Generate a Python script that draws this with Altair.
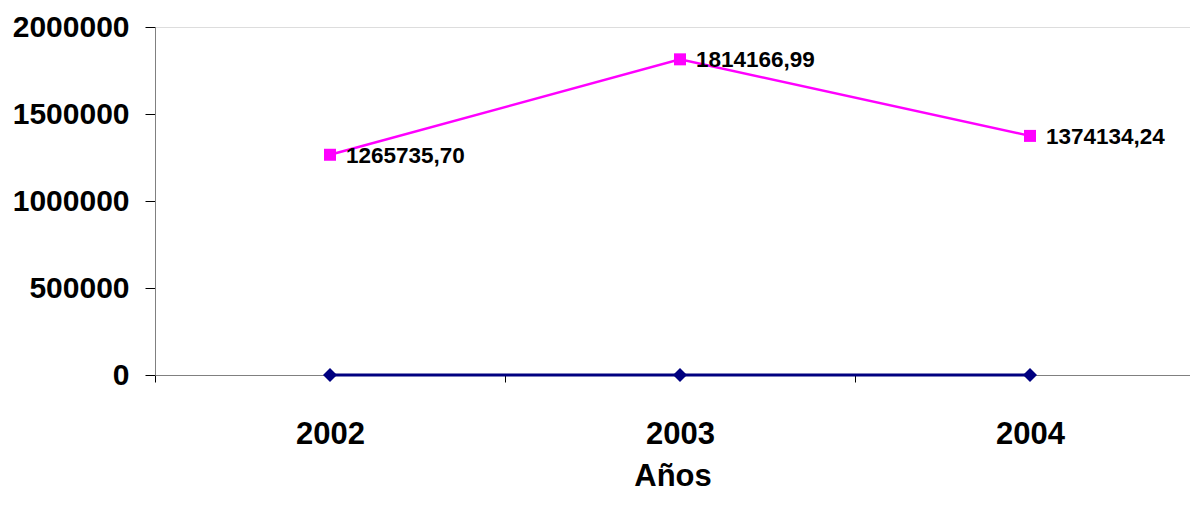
import altair as alt
import pandas as pd

years = [2002, 2003, 2004]
serie_a = [1265735.70, 1814166.99, 1374134.24]
serie_b = [0, 0, 0]
labels_a = ["1265735,70", "1814166,99", "1374134,24"]

pos = [i + 0.5 for i in range(len(years))]
df_a = pd.DataFrame({"pos": pos, "year": years, "value": serie_a, "label": labels_a})
df_b = pd.DataFrame({"pos": pos, "year": years, "value": serie_b})

FONT = "Liberation Sans"
PLOT_W = 1035

x = alt.X(
    "pos:Q",
    scale=alt.Scale(domain=[0, PLOT_W / 350], nice=False, zero=False),
    axis=alt.Axis(
        values=[0, 0.5, 1, 1.5, 2, 2.5],
        labelExpr="datum.value % 1 == 0.5 ? format(datum.value + 2001.5, 'd') : ''",
        tickOpacity={"condition": {"test": "datum.value % 1 == 0", "value": 1}, "value": 0},
        title="Años",
        grid=False,
        tickSize=7,
        labelPadding=37,
        titlePadding=12,
        labelFontSize=31,
        titleFontSize=31,
        labelFont=FONT,
        titleFont=FONT,
        labelFontWeight="bold",
        titleFontWeight="bold",
        labelColor="black",
        titleColor="black",
        domainColor="#808080",
        tickColor="black",
        labelFlush=False,
        labelOverlap=False,
    ),
)

y = alt.Y(
    "value:Q",
    scale=alt.Scale(domain=[0, 2000000], nice=False),
    axis=alt.Axis(
        values=[0, 500000, 1000000, 1500000, 2000000],
        format="d",
        title=None,
        grid=False,
        tickSize=10,
        labelPadding=16,
        labelFontSize=30,
        labelFont=FONT,
        labelFontWeight="bold",
        labelColor="black",
        domainColor="#808080",
        tickColor="black",
    ),
)

line_b = alt.Chart(df_b).mark_line(color="#000080", strokeWidth=3).encode(x=x, y=y)
pts_b = alt.Chart(df_b).mark_point(
    shape="diamond", filled=True, color="#000080", size=196, opacity=1
).encode(x=x, y=y)

line_a = alt.Chart(df_a).mark_line(color="#FF00FF", strokeWidth=2.5).encode(x=x, y=y)
pts_a = alt.Chart(df_a).mark_point(
    shape="square", filled=True, color="#FF00FF", size=144, opacity=1
).encode(x=x, y=y)
txt_a = alt.Chart(df_a).mark_text(
    align="left", baseline="middle", dx=16, dy=1, fontSize=22.5, fontWeight="bold",
    font=FONT, color="black"
).encode(x=x, y=y, text="label:N")

chart = alt.layer(line_b, pts_b, line_a, pts_a, txt_a).properties(
    width=PLOT_W,
    height=348,
    autosize=alt.AutoSizeParams(type="none"),
    padding={"left": 147, "top": 19, "right": 0, "bottom": 120},
).configure_view(stroke=None).configure(background="white")

chart.save("out.html", embed_options={"renderer": "svg", "actions": False})
